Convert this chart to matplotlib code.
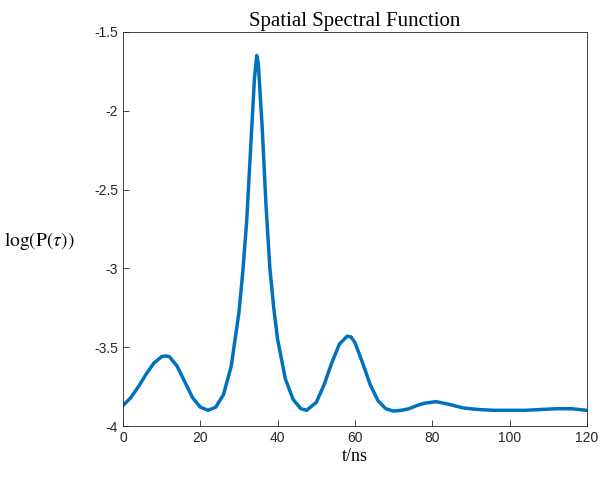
import matplotlib
matplotlib.use("Agg")
import matplotlib.pyplot as plt

t = [0, 2, 4, 6, 8, 10, 11, 12, 14, 16, 18, 20, 22, 24, 26, 28, 30, 31, 32, 33, 34, 34.6, 35, 36, 37, 38, 39, 40, 42, 44, 46, 47.5,
     50, 52, 54, 56, 58, 59, 60, 62, 64, 66, 68, 70, 72, 74, 76, 78, 81, 84, 88, 92, 96, 100, 104, 108, 112, 116, 120]
logP = [-3.87, -3.82, -3.75, -3.67, -3.60, -3.56, -3.555, -3.56, -3.62, -3.72, -3.82, -3.88, -3.90, -3.88, -3.80, -3.62, -3.28,
        -3.02, -2.70, -2.25, -1.80, -1.65, -1.70, -2.10, -2.60, -3.00, -3.25, -3.45, -3.70, -3.83, -3.89, -3.90,
        -3.85, -3.74, -3.60, -3.48, -3.43, -3.435, -3.47, -3.60, -3.74, -3.84, -3.89, -3.905, -3.90, -3.89, -3.87,
        -3.855, -3.845, -3.86, -3.885, -3.895, -3.90, -3.90, -3.90, -3.895, -3.89, -3.89, -3.90]
xticks = [0, 20, 40, 60, 80, 100, 120]
yticks = [-4, -3.5, -3, -2.5, -2, -1.5]
yticklabels = ["-4", "-3.5", "-3", "-2.5", "-2", "-1.5"]

plt.rcParams["mathtext.fontset"] = "stix"
fig = plt.figure(figsize=(6, 4.82), dpi=100)
ax = fig.add_axes([0.205, 0.116, 0.773, 0.818])
ax.plot(t, logP, color="#0072BD", lw=2.5)
ax.set_xlim(0, 120)
ax.set_ylim(-4, -1.5)
ax.set_xticks(xticks)
ax.set_yticks(yticks)
ax.set_yticklabels(yticklabels)
ax.tick_params(direction="in", length=4, width=0.6, labelsize=10, colors="#262626")
for lab in ax.get_xticklabels() + ax.get_yticklabels():
    lab.set_fontfamily("Liberation Sans")
for s in ax.spines.values():
    s.set_linewidth(0.6)
    s.set_color("#262626")
ax.set_title("Spatial Spectral Function", fontfamily="Liberation Serif", fontsize=15, pad=4)
ax.set_xlabel("t/ns", fontfamily="Liberation Serif", fontsize=13, labelpad=2)
ax.set_ylabel(r"$\mathrm{log(P(}\tau\mathrm{))}$", fontsize=14, rotation=0, ha="center", va="center")
ax.yaxis.set_label_coords(-0.18, 0.47)
fig.savefig("out.png", dpi=100)
